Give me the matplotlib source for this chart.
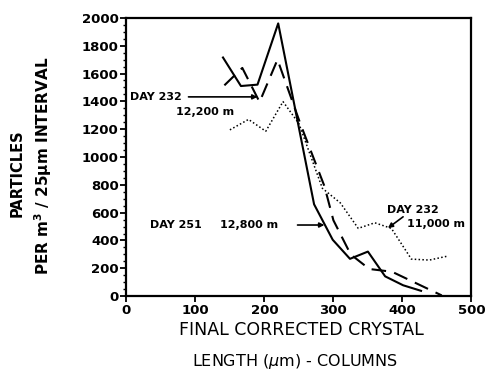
import matplotlib
matplotlib.use("Agg")
import matplotlib.pyplot as plt
from matplotlib.ticker import MultipleLocator

# DAY 251, 12,800 m (solid)
solid_x = [140, 166, 190, 220, 272, 299, 324, 350, 375, 401, 427]
solid_y = [1715, 1510, 1520, 1960, 660, 405, 268, 320, 142, 78, 38]

# DAY 232, 12,200 m (dashed)
dash_x = [142, 168, 193, 219, 252, 287, 300, 325, 352, 385, 457]
dash_y = [1515, 1640, 1395, 1700, 1240, 790, 545, 300, 195, 175, 5]

# DAY 232, 11,000 m (dotted)
dot_x = [150, 177, 202, 227, 250, 284, 310, 336, 360, 384, 413, 439, 466]
dot_y = [1195, 1270, 1185, 1398, 1240, 775, 670, 487, 527, 487, 266, 259, 288]

xticks = [0, 100, 200, 300, 400, 500]
yticks = [0, 200, 400, 600, 800, 1000, 1200, 1400, 1600, 1800, 2000]

plt.rcParams['font.family'] = ['DejaVu Sans']

fig = plt.figure(figsize=(4.88, 3.72), dpi=100)
ax = fig.add_axes([0.259, 0.204, 0.707, 0.748])

ax.plot(solid_x, solid_y, color='black', lw=1.5)
ax.plot(dash_x, dash_y, color='black', lw=1.5, dashes=(7, 4))
ax.plot(dot_x, dot_y, color='black', lw=1.1, linestyle=(0, (1, 1.5)))

ax.set_xlim(0, 500)
ax.set_ylim(0, 2000)
ax.set_xticks(xticks)
ax.set_yticks(yticks)
ax.set_xticklabels([str(v) for v in xticks], fontsize=9.5, fontweight='bold')
ax.set_yticklabels([str(v) for v in yticks], fontsize=9.5, fontweight='bold')
ax.yaxis.set_minor_locator(MultipleLocator(50))
ax.tick_params(axis='both', which='major', direction='out', length=4, width=1.3, pad=1.5)
ax.tick_params(axis='y', which='minor', direction='out', length=2.5, width=1)
for s in ax.spines.values():
    s.set_linewidth(1.6)

fig.text(0.035, 0.535, 'PARTICLES', rotation=90, ha='center', va='center',
         fontsize=10.5, fontweight='bold')
fig.text(0.088, 0.555, 'PER m$^\\mathbf{3}$ / 25$\\mathbf{\\mu}$m INTERVAL', rotation=90,
         ha='center', va='center', fontsize=11, fontweight='bold')
fig.text(0.618, 0.114, 'FINAL CORRECTED CRYSTAL', ha='center', va='center', fontsize=12.5)
fig.text(0.605, 0.028, 'LENGTH ($\\mu$m) - COLUMNS', ha='center', va='center', fontsize=11.5)

arrow = dict(arrowstyle='-|>', color='black', lw=1.2, mutation_scale=7, shrinkA=0, shrinkB=0)
ax.text(5, 1432, 'DAY 232', fontsize=8, fontweight='bold', va='center', ha='left')
ax.annotate('', xy=(190, 1432), xytext=(90, 1432), arrowprops=arrow)
ax.text(114, 1324, '12,200 m', fontsize=8, fontweight='bold', va='center', ha='center')

ax.text(34, 511, 'DAY 251', fontsize=8, fontweight='bold', va='center', ha='left')
ax.text(136, 511, '12,800 m', fontsize=8, fontweight='bold', va='center', ha='left')
ax.annotate('', xy=(287, 511), xytext=(248, 511), arrowprops=arrow)

ax.text(415, 619, 'DAY 232', fontsize=8, fontweight='bold', va='center', ha='center')
ax.text(407, 518, '11,000 m', fontsize=8, fontweight='bold', va='center', ha='left')
ax.annotate('', xy=(379, 489), xytext=(401, 570), arrowprops=arrow)

fig.savefig('out.png', dpi=100)
